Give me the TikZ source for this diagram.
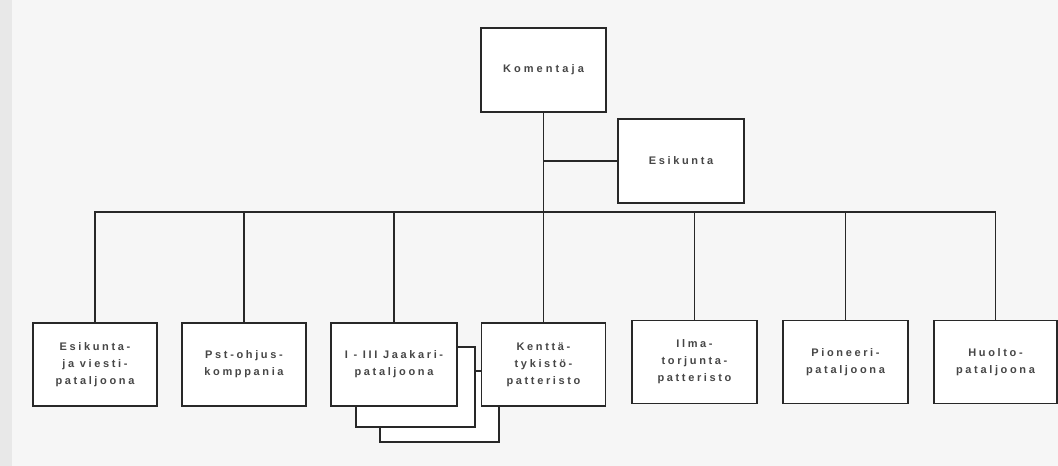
\documentclass[tikz,border=0pt]{standalone}
\usepackage{fontspec}
\setmainfont{Liberation Sans}
\newfontfamily\boxfont[LetterSpace=24]{Liberation Sans}
\newfontfamily\widefont[LetterSpace=28]{Liberation Sans}
\definecolor{bg}{RGB}{246,246,246}
\definecolor{strip}{RGB}{232,232,232}
\definecolor{ink}{RGB}{40,40,40}
\definecolor{txt}{RGB}{70,70,70}
\tikzset{
  orgbox/.style={draw=ink, fill=white, line width=1.3pt, align=center,
    inner sep=0pt, text=txt,
    font=\boxfont\bfseries\fontsize{11}{17}\selectfont},
  link/.style={draw=ink, line width=1.2pt}
}
\begin{document}
\begin{tikzpicture}[x=1pt,y=-1pt]
\fill[bg] (0,0) rectangle (1058,466);
\fill[strip] (0,0) rectangle (12,466);
\useasboundingbox (0,0) rectangle (1058,466);

\node[orgbox, minimum width=125pt, minimum height=84pt,
  font=\widefont\bfseries\fontsize{11}{17}\selectfont] (kom) at (543.5,70) {Komentaja};
\node[orgbox, minimum width=126pt, minimum height=84pt] (esk) at (681,161) {Esikunta};

\node[orgbox, minimum width=119pt, minimum height=71pt] (b3c) at (439.5,406.5) {};
\node[orgbox, minimum width=119pt, minimum height=80pt] (b3b) at (415.5,387) {};

\node[orgbox, minimum width=124pt, minimum height=83pt] (b1) at (95,364.5) {Esikunta-\\ja viesti-\\pataljoona};
\node[orgbox, minimum width=124pt, minimum height=83pt] (b2) at (244,364.5) {Pst-ohjus-\\komppania};
\node[orgbox, minimum width=126pt, minimum height=83pt] (b3) at (394,364.5) {I - III Jaakari-\\pataljoona};
\node[orgbox, minimum width=124pt, minimum height=83pt] (b4) at (543.5,364.5) {Kenttä-\\tykistö-\\patteristo};
\node[orgbox, minimum width=125pt, minimum height=83pt] (b5) at (694.5,362) {Ilma-\\torjunta-\\patteristo};
\node[orgbox, minimum width=125pt, minimum height=83pt] (b6) at (845.5,362) {Pioneeri-\\pataljoona};
\node[orgbox, minimum width=123pt, minimum height=83pt] (b7) at (995.5,362) {Huolto-\\pataljoona};

\coordinate (bus) at (543.5,212);
\draw[link] (kom.south) -- (b4.north);
\draw[link] (kom.south |- esk.west) -- (esk.west);
\draw[link] (b1.north) |- (bus) -| (b7.north);
\foreach \n in {b2,b3,b5,b6} {
  \draw[link] (\n.north) -- (\n.north |- bus);
}
\end{tikzpicture}
\end{document}
